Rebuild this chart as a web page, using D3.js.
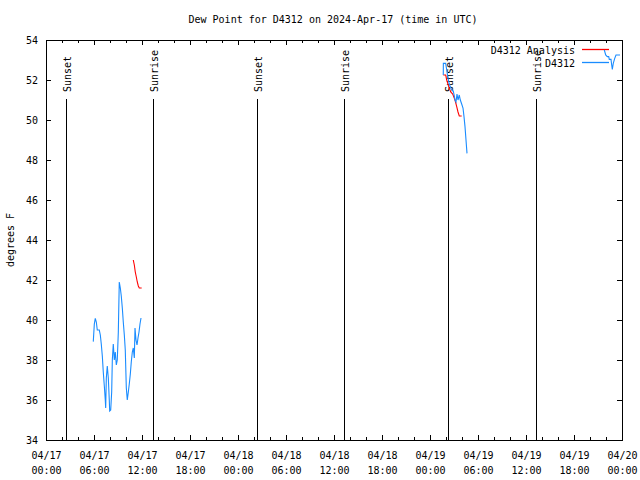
<!DOCTYPE html>
<html><head><meta charset="utf-8">
<script src="https://cdn.jsdelivr.net/npm/d3@7"></script>
<style>
body{margin:0;background:#fff}
text{font-family:"DejaVu Sans Mono","Liberation Mono",monospace;font-size:10px;fill:#000}
</style>
</head><body><svg id="c" width="640" height="480"></svg>
<script>
const titleText = "Dew Point for D4312 on 2024-Apr-17 (time in UTC)";
const yLabel = "degrees F";
const startMs = Date.UTC(2024, 3, 17, 0, 0);
const endMs = Date.UTC(2024, 3, 20, 0, 0);
const xMajorHours = [0, 6, 12, 18, 24, 30, 36, 42, 48, 54, 60, 66, 72];
const xTickLine1 = ["04/17","04/17","04/17","04/17","04/18","04/18","04/18","04/18","04/19","04/19","04/19","04/19","04/20"];
const xTickLine2 = ["00:00","06:00","12:00","18:00","00:00","06:00","12:00","18:00","00:00","06:00","12:00","18:00","00:00"];
const yTicks = [34, 36, 38, 40, 42, 44, 46, 48, 50, 52, 54];
const sunHours = [2.45, 13.4, 26.4, 37.3, 50.3, 61.25];
const sunLabels = ["Sunset", "Sunrise", "Sunset", "Sunrise", "Sunset", "Sunrise"];
const seriesNames = ["D4312 Analysis", "D4312"];

// observed D4312 (hours after 04/17 00:00 UTC); null = gap
const obsHours = [5.91,6.04,6.16,6.29,6.41,6.66,6.79,6.91,7.04,7.16,7.29,7.41,7.46,7.54,7.66,7.79,7.91,7.96,8.09,8.21,8.29,8.41,8.54,8.66,8.79,8.91,9.04,9.16,9.29,9.41,9.54,9.66,9.79,9.91,10.04,10.16,10.29,10.41,10.54,10.66,10.79,10.91,11.04,11.125,11.25,11.375,11.5,11.625,11.75,11.875,
  30,
  49.66,49.67,49.96,50.09,50.25,50.41,50.59,50.75,50.91,51.04,51.125,51.25,51.375,51.5,51.66,51.79,51.96,52.125,52.25,52.375,52.5,52.625,
  60,
  69.79,69.96,70.16,70.34,70.41,70.625,70.71,70.79,70.91,71.09,71.25,71.75];
const obsValues = [38.92,39.8,40.08,39.9,39.5,39.5,39.25,38.8,38.2,37.4,36.7,36.0,35.6,37.1,37.7,37.1,36.0,35.45,35.5,36.4,38.0,38.8,38.0,38.4,37.75,38.0,39.4,41.9,41.6,41.2,40.6,39.9,39.25,38.5,36.6,36.0,36.4,36.8,37.3,37.9,38.4,38.6,38.1,39.6,39.0,38.75,39.1,39.4,39.8,40.1,
  null,
  52.25,52.83,52.83,52.5,52.1,51.8,51.6,51.5,51.45,51.2,51.0,50.9,51.3,51.0,51.25,51.0,50.8,50.6,50.17,49.67,49.0,48.33,
  null,
  53.5,53.25,53.17,53.17,53.03,53.03,52.75,52.53,52.83,53.08,53.25,53.25];

// D4312 Analysis
const anaHours = [10.91,11.04,11.16,11.29,11.41,11.54,11.66,11.96,
  30,
  49.66,49.96,50.09,50.34,50.59,50.84,51.125,51.34,51.5,51.66,51.96];
const anaValues = [43.0,42.75,42.4,42.15,41.9,41.7,41.6,41.6,
  null,
  52.25,52.25,52.0,51.67,51.4,51.3,51.0,50.67,50.4,50.2,50.2];

const hourDate = h => new Date(startMs + h * 3600e3);
const L = 46, R = 622, T = 40, B = 440;
const x = d3.scaleUtc().domain([new Date(startMs), new Date(endMs)]).range([L, R]);
const y = d3.scaleLinear().domain([34, 54]).range([B, T]);
const svg = d3.select("#c");
svg.append("rect").attr("width", 640).attr("height", 480).attr("fill", "#fff");

svg.append("text").attr("x", 333).attr("y", 23).attr("text-anchor", "middle").text(titleText);

const majorDates = xMajorHours.map(hourDate);
const minorDates = d3.range(0, 73, 2).map(hourDate);

function styleAxis(g) {
  g.select(".domain").remove();
  g.selectAll("line").attr("stroke", "#000").attr("shape-rendering", "crispEdges");
}
svg.append("g").attr("transform", `translate(0,${B})`)
  .call(d3.axisBottom(x).tickValues(minorDates).tickSize(-3).tickFormat(""))
  .call(styleAxis);
svg.append("g").attr("transform", `translate(0,${T})`)
  .call(d3.axisTop(x).tickValues(minorDates).tickSize(-3).tickFormat(""))
  .call(styleAxis);
const xb = svg.append("g").attr("transform", `translate(0,${B})`)
  .call(d3.axisBottom(x).tickValues(majorDates).tickSize(-5).tickPadding(9).tickFormat(""))
  .call(styleAxis);
xb.selectAll(".tick text").each(function(d, i) {
  const t = d3.select(this).attr("dy", null).attr("y", 19).attr("font-size", null).attr("font-family", null);
  t.append("tspan").attr("x", 0).attr("y", 19).text(xTickLine1[i]);
  t.append("tspan").attr("x", 0).attr("y", 34).text(xTickLine2[i]);
});
svg.append("g").attr("transform", `translate(0,${T})`)
  .call(d3.axisTop(x).tickValues(majorDates).tickSize(-5).tickFormat(""))
  .call(styleAxis);
const yl = svg.append("g").attr("transform", `translate(${L},0)`)
  .call(d3.axisLeft(y).tickValues(yTicks).tickSize(-5).tickPadding(8))
  .call(styleAxis);
yl.selectAll(".tick text").attr("font-size", null).attr("font-family", null);
svg.append("g").attr("transform", `translate(${R},0)`)
  .call(d3.axisRight(y).tickValues(yTicks).tickSize(-5).tickFormat(""))
  .call(styleAxis);

svg.append("text").attr("transform", "translate(14,240) rotate(-90)")
  .attr("text-anchor", "middle").text(yLabel);

sunHours.forEach((h, i) => {
  const sx = Math.round(x(hourDate(h))) + 0.5;
  svg.append("line").attr("x1", sx).attr("x2", sx).attr("y1", y(51.05)).attr("y2", B)
    .attr("stroke", "#000").attr("shape-rendering", "crispEdges");
  svg.append("text").attr("transform", `translate(${sx + 4},${y(51.05) - 7}) rotate(-90)`)
    .attr("text-anchor", "start").text(sunLabels[i]);
});

svg.append("rect").attr("x", L + 0.5).attr("y", T + 0.5).attr("width", R - L).attr("height", B - T)
  .attr("fill", "none").attr("stroke", "#000").attr("shape-rendering", "crispEdges");

const line = d3.line().defined(d => d[1] != null).x(d => x(hourDate(d[0]))).y(d => y(d[1]));
const obs = obsHours.map((h, i) => [h, obsValues[i]]);
const ana = anaHours.map((h, i) => [h, anaValues[i]]);

const colors = ["#ff0000", "#1a8cff"];
const legendY = [50, 63];
seriesNames.forEach((name, i) => {
  svg.append("text").attr("x", 575).attr("y", legendY[i] + 4).attr("text-anchor", "end").text(name);
  svg.append("line").attr("x1", 582).attr("x2", 609).attr("y1", legendY[i] - 0.5).attr("y2", legendY[i] - 0.5)
    .attr("stroke", colors[i]).attr("stroke-width", 1.3);
});

svg.append("path").datum(ana).attr("d", line).attr("fill", "none")
  .attr("stroke", colors[0]).attr("stroke-width", 1.1);
svg.append("path").datum(obs).attr("d", line).attr("fill", "none")
  .attr("stroke", colors[1]).attr("stroke-width", 1.1);
</script></body></html>
